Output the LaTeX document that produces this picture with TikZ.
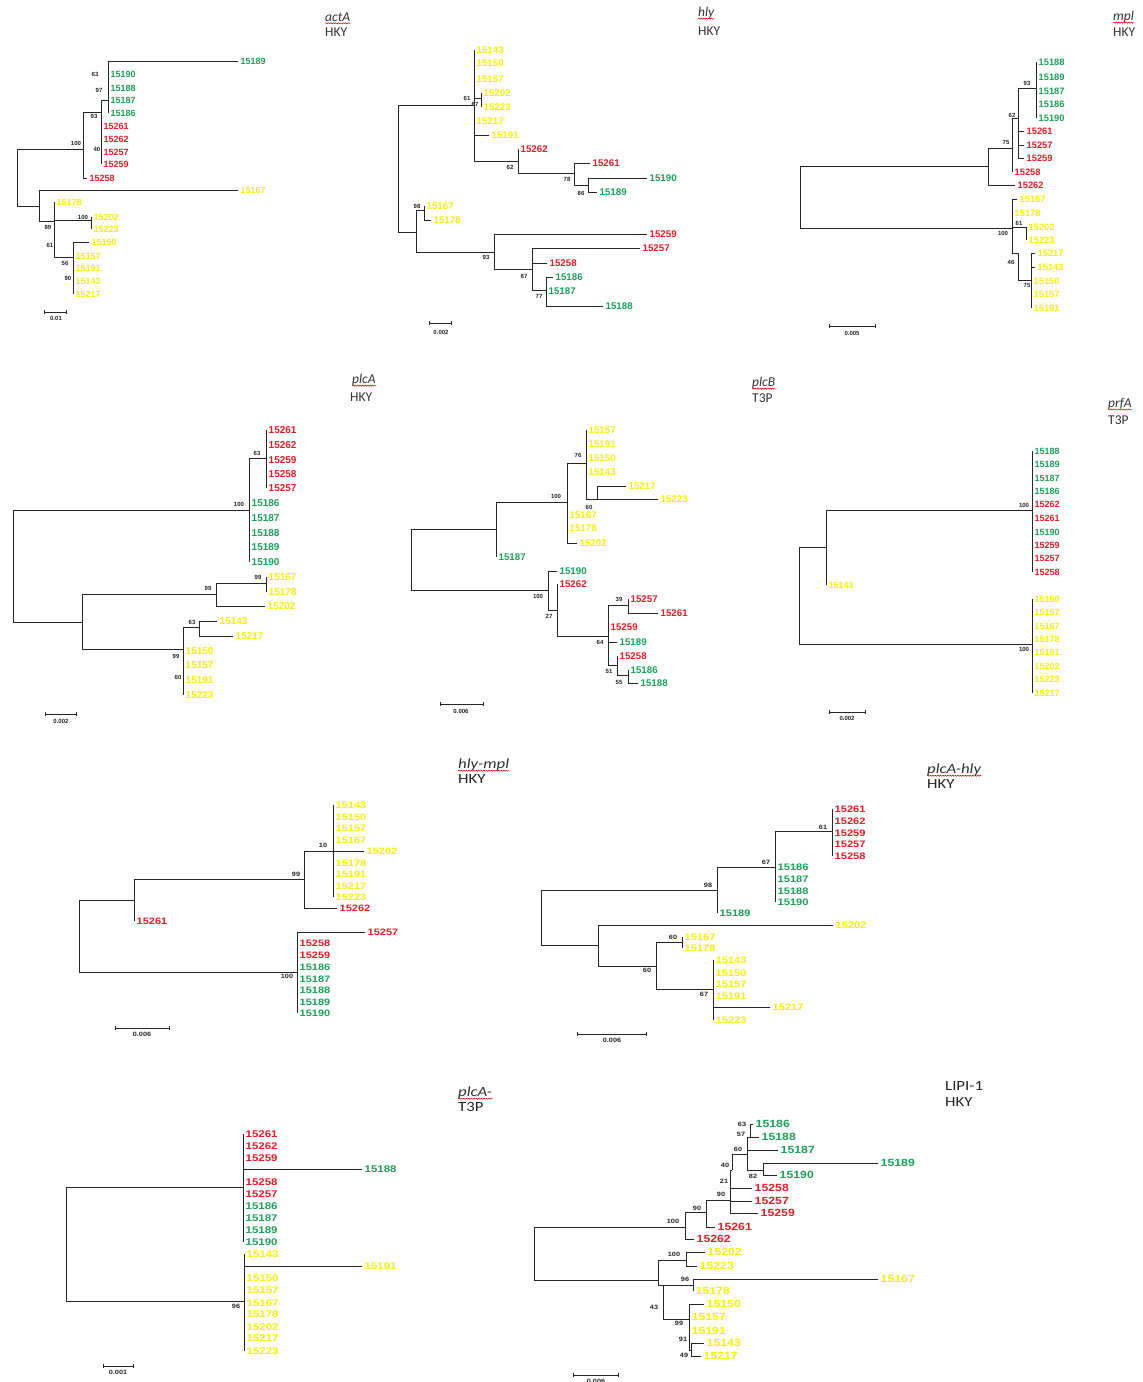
\documentclass[tikz,border=0pt]{standalone}
\usepackage{fontspec}
\usetikzlibrary{arrows.meta,decorations.pathmorphing}
\newfontfamily\lbl{Liberation Sans}
\newfontfamily\lblw{Liberation Sans}[FakeStretch=1.18]
\newfontfamily\ttl{Carlito}
\newfontfamily\ttlw{Carlito}[FakeStretch=1.2]
\definecolor{gL}{RGB}{30,160,90}
\definecolor{rL}{RGB}{225,30,40}
\definecolor{yL}{RGB}{248,240,10}
\tikzset{
  br/.style={draw=black!85, line width=1pt},
  lffont/.style={font=\lbl\bfseries\fontsize{9}{10}\selectfont},
  lf/.style={anchor=west, inner xsep=2.5pt, inner ysep=0pt, lffont},
  G/.style={text=gL}, R/.style={text=rL}, Y/.style={text=yL},
  bsfont/.style={font=\lbl\bfseries\fontsize{6}{7}\selectfont},
  bs/.style={inner sep=0pt, text=black!85, bsfont},
  sbar/.style={draw=black!85, line width=0.9pt, {Bar[width=4pt]}-{Bar[width=4pt]}},
  gene/.style={anchor=west, inner sep=0pt, text=black!80, font=\ttl\itshape\fontsize{13.5}{15}\selectfont},
  model/.style={anchor=west, inner sep=0pt, text=black!80, font=\ttl\fontsize{13.5}{15}\selectfont},
  genew/.style={anchor=west, inner sep=0pt, text=black!80, font=\ttlw\itshape\fontsize{14}{15}\selectfont},
  modelw/.style={anchor=west, inner sep=0pt, text=black!85, font=\ttlw\fontsize{14}{15}\selectfont},
  squig/.style={draw=red!80!black, line width=0.5pt, decorate, decoration={snake, amplitude=0.6pt, segment length=2.5pt}}
}
\newcommand\leaf[5]{\node[lf,#1] (#2#5) at (#4) {#5};\draw[br] (#3) |- (#2#5);}
\newcommand\inode[3]{\coordinate (#1) at (#3);\draw[br] (#2) |- (#1);}
\newcommand\bsv[3]{\node[bs] (#1) at (#2) {#3};}
\newcommand\squnder[1]{\draw[squig] ([yshift=-2pt]#1.base west) -- ([yshift=-2pt]#1.base east);}
\begin{document}
\begin{tikzpicture}[x=1pt,y=-1pt]
\path[fill=white, use as bounding box] (0,0) rectangle (1143,1382);

% ---------------- actA ----------------
\begin{scope}[lffont/.style={font=\lbl\bfseries\fontsize{9}{10}\selectfont}]
\coordinate (aR) at (17,178);
\inode{a1}{aR}{83,149}
\inode{a2}{aR}{39,206}
\inode{a3}{a1}{101,112}
\leaf{R}{a}{a1}{87,178}{15258}
\inode{a4}{a3}{108,100}
\leaf{G}{a}{a4}{238,61}{15189}
\leaf{G}{a}{a4}{108,74}{15190}
\leaf{G}{a}{a4}{108,88}{15188}
\leaf{G}{a}{a4}{108,100}{15187}
\leaf{G}{a}{a4}{108,113}{15186}
\leaf{R}{a}{a3}{101,126}{15261}
\leaf{R}{a}{a3}{101,139}{15262}
\leaf{R}{a}{a3}{101,152}{15257}
\leaf{R}{a}{a3}{101,164}{15259}
\leaf{Y}{a}{a2}{238,190}{15167}
\inode{a5}{a2}{54,221}
\leaf{Y}{a}{a5}{54,202}{15178}
\inode{a6}{a5}{91,220}
\leaf{Y}{a}{a6}{91,217}{15202}
\leaf{Y}{a}{a6}{91,229}{15223}
\inode{a7}{a5}{73,257}
\leaf{Y}{a}{a7}{89,242}{15150}
\leaf{Y}{a}{a7}{73,256}{15157}
\leaf{Y}{a}{a7}{73,268}{15191}
\leaf{Y}{a}{a7}{73,281}{15143}
\leaf{Y}{a}{a7}{73,294}{15217}
\bsv{ab1}{76,143}{100}
\bsv{ab2}{94,116}{93}
\bsv{ab3}{95,74}{63}
\bsv{ab4}{99,90}{97}
\bsv{ab5}{97,149}{40}
\bsv{ab6}{48,227}{89}
\bsv{ab7}{50,245}{61}
\bsv{ab8}{83,217}{100}
\bsv{ab9}{65,263}{56}
\bsv{ab10}{68,278}{90}
\coordinate (as1) at (44,312); \coordinate (as2) at (67,312);
\draw[sbar] (as1) -- (as2);
\bsv{asl}{56,318}{0.01}
\node[gene] (atg) at (325,17) {actA}; \squnder{atg}
\node[model] (atm) at (325,32) {HKY};
\end{scope}

% ---------------- hly ----------------
\begin{scope}[lffont/.style={font=\lbl\bfseries\fontsize{9.7}{10}\selectfont}]
\coordinate (bR) at (398,168);
\inode{b1}{bR}{474,105}
\inode{b6}{bR}{416,232}
\leaf{Y}{b}{b1}{474,50}{15143}
\leaf{Y}{b}{b1}{474,63}{15150}
\leaf{Y}{b}{b1}{474,79}{15157}
\inode{b2}{b1}{481,98}
\leaf{Y}{b}{b2}{481,93}{15202}
\leaf{Y}{b}{b2}{481,107}{15223}
\leaf{Y}{b}{b1}{474,121}{15217}
\leaf{Y}{b}{b1}{489,135}{15191}
\inode{b3}{b1}{518,161}
\leaf{R}{b}{b3}{518,149}{15262}
\inode{b4}{b3}{574,173}
\leaf{R}{b}{b4}{590,163}{15261}
\inode{b5}{b4}{588,185}
\leaf{G}{b}{b5}{647,178}{15190}
\leaf{G}{b}{b5}{597,192}{15189}
\inode{b7}{b6}{424,210}
\leaf{Y}{b}{b7}{424,206}{15167}
\leaf{Y}{b}{b7}{431,220}{15178}
\inode{b8}{b6}{494,252}
\leaf{R}{b}{b8}{647,234}{15259}
\inode{b9}{b8}{532,269}
\leaf{R}{b}{b9}{640,248}{15257}
\leaf{R}{b}{b9}{547,263}{15258}
\inode{b10}{b9}{546,290}
\leaf{G}{b}{b10}{553,277}{15186}
\leaf{G}{b}{b10}{546,291}{15187}
\leaf{G}{b}{b10}{603,306}{15188}
\bsv{bb1}{467,98}{61}
\bsv{bb2}{475,104}{67}
\bsv{bb3}{510,167}{62}
\bsv{bb4}{567,179}{78}
\bsv{bb5}{581,193}{86}
\bsv{bb6}{417,206}{98}
\bsv{bb7}{486,257}{93}
\bsv{bb8}{524,276}{87}
\bsv{bb9}{539,296}{77}
\coordinate (bs1) at (429,323); \coordinate (bs2) at (452,323);
\draw[sbar] (bs1) -- (bs2);
\bsv{bsl}{441,332}{0.002}
\node[gene] (btg) at (698,13) {hly}; \squnder{btg}
\node[model] (btm) at (698,31) {HKY};
\end{scope}

% ---------------- mpl ----------------
\begin{scope}[lffont/.style={font=\lbl\bfseries\fontsize{9.3}{10}\selectfont}]
\coordinate (cR) at (800,197);
\inode{c1}{cR}{988,166}
\inode{c5}{cR}{1012,228}
\inode{c2}{c1}{1012,148}
\leaf{R}{c}{c1}{1015,185}{15262}
\inode{c3}{c2}{1018,118}
\leaf{R}{c}{c2}{1012,172}{15258}
\inode{c4}{c3}{1036,88}
\leaf{G}{c}{c4}{1036,62}{15188}
\leaf{G}{c}{c4}{1036,77}{15189}
\leaf{G}{c}{c4}{1036,91}{15187}
\leaf{G}{c}{c4}{1036,104}{15186}
\leaf{G}{c}{c4}{1036,118}{15190}
\leaf{R}{c}{c3}{1024,131}{15261}
\leaf{R}{c}{c3}{1024,145}{15257}
\leaf{R}{c}{c3}{1024,158}{15259}
\leaf{Y}{c}{c5}{1017,199}{15167}
\leaf{Y}{c}{c5}{1012,213}{15178}
\inode{c6}{c5}{1026,227}
\leaf{Y}{c}{c6}{1026,227}{15202}
\leaf{Y}{c}{c6}{1026,240}{15223}
\inode{c7}{c5}{1018,253}
\inode{c8}{c7}{1031,280}
\leaf{Y}{c}{c8}{1035,253}{15217}
\leaf{Y}{c}{c8}{1035,267}{15143}
\leaf{Y}{c}{c8}{1031,281}{15150}
\leaf{Y}{c}{c8}{1031,294}{15157}
\leaf{Y}{c}{c8}{1031,308}{15191}
\bsv{cb1}{1027,83}{93}
\bsv{cb2}{1012,115}{62}
\bsv{cb3}{1006,142}{75}
\bsv{cb4}{1003,233}{100}
\bsv{cb5}{1019,223}{61}
\bsv{cb6}{1011,262}{46}
\bsv{cb7}{1027,285}{75}
\coordinate (cs1) at (829,326); \coordinate (cs2) at (876,326);
\draw[sbar] (cs1) -- (cs2);
\bsv{csl}{852,333}{0.005}
\node[gene] (ctg) at (1113,17) {mpl}; \squnder{ctg}
\node[model] (ctm) at (1113,32) {HKY};
\end{scope}

% ---------------- plcA ----------------
\begin{scope}[lffont/.style={font=\lbl\bfseries\fontsize{10}{11}\selectfont}]
\coordinate (dR) at (13,566);
\inode{d1}{dR}{249,510}
\inode{d3}{dR}{82,622}
\inode{d2}{d1}{266,458}
\leaf{R}{d}{d2}{266,430}{15261}
\leaf{R}{d}{d2}{266,445}{15262}
\leaf{R}{d}{d2}{266,460}{15259}
\leaf{R}{d}{d2}{266,474}{15258}
\leaf{R}{d}{d2}{266,488}{15257}
\leaf{G}{d}{d1}{249,503}{15186}
\leaf{G}{d}{d1}{249,518}{15187}
\leaf{G}{d}{d1}{249,533}{15188}
\leaf{G}{d}{d1}{249,547}{15189}
\leaf{G}{d}{d1}{249,562}{15190}
\inode{d4}{d3}{216,594}
\inode{d6}{d4}{266,583}
\leaf{Y}{d}{d6}{266,577}{15167}
\leaf{Y}{d}{d6}{266,592}{15178}
\leaf{Y}{d}{d4}{265,606}{15202}
\inode{d5}{d3}{183,649}
\inode{d7}{d5}{199,627}
\leaf{Y}{d}{d7}{217,621}{15143}
\leaf{Y}{d}{d7}{233,636}{15217}
\leaf{Y}{d}{d5}{183,651}{15150}
\leaf{Y}{d}{d5}{183,665}{15157}
\leaf{Y}{d}{d5}{183,680}{15191}
\leaf{Y}{d}{d5}{183,695}{15223}
\bsv{db1}{239,504}{100}
\bsv{db2}{257,453}{63}
\bsv{db3}{208,588}{99}
\bsv{db4}{258,577}{99}
\bsv{db5}{176,656}{99}
\bsv{db6}{192,622}{63}
\bsv{db7}{178,677}{60}
\coordinate (ds1) at (45,714); \coordinate (ds2) at (77,714);
\draw[sbar] (ds1) -- (ds2);
\bsv{dsl}{61,721}{0.002}
\node[gene] (dtg) at (352,380) {plcA}; \squnder{dtg}
\node[model] (dtm) at (350,397) {HKY};
\end{scope}

% ---------------- plcB ----------------
\begin{scope}[lffont/.style={font=\lbl\bfseries\fontsize{9.7}{10}\selectfont}]
\coordinate (eR) at (411,560);
\inode{e1}{eR}{496,529}
\inode{e5}{eR}{548,590}
\inode{e2}{e1}{567,502}
\leaf{G}{e}{e1}{496,557}{15187}
\inode{e3}{e2}{586,463}
\leaf{Y}{e}{e3}{586,430}{15157}
\leaf{Y}{e}{e3}{586,444}{15191}
\leaf{Y}{e}{e3}{586,458}{15150}
\leaf{Y}{e}{e3}{586,472}{15143}
\inode{e4}{e3}{597,499}
\leaf{Y}{e}{e4}{626,486}{15217}
\leaf{Y}{e}{e4}{658,499}{15223}
\leaf{Y}{e}{e2}{567,515}{15167}
\leaf{Y}{e}{e2}{567,528}{15178}
\leaf{Y}{e}{e2}{577,543}{15202}
\leaf{G}{e}{e5}{557,571}{15190}
\inode{e6}{e5}{557,610}
\leaf{R}{e}{e6}{557,584}{15262}
\inode{e7}{e6}{608,636}
\inode{e8}{e7}{628,605}
\leaf{R}{e}{e8}{628,599}{15257}
\leaf{R}{e}{e8}{658,613}{15261}
\leaf{R}{e}{e7}{608,627}{15259}
\leaf{G}{e}{e7}{617,642}{15189}
\inode{e9}{e7}{617,665}
\leaf{R}{e}{e9}{617,656}{15258}
\inode{e10}{e9}{628,675}
\leaf{G}{e}{e10}{628,670}{15186}
\leaf{G}{e}{e10}{638,683}{15188}
\bsv{eb1}{578,455}{76}
\bsv{eb2}{556,496}{100}
\bsv{eb3}{589,507}{60}
\bsv{eb4}{538,596}{100}
\bsv{eb5}{549,616}{27}
\bsv{eb6}{619,599}{39}
\bsv{eb7}{600,642}{64}
\bsv{eb8}{609,671}{51}
\bsv{eb9}{619,682}{55}
\coordinate (es1) at (440,704); \coordinate (es2) at (484,704);
\draw[sbar] (es1) -- (es2);
\bsv{esl}{461,711}{0.006}
\node[gene] (etg) at (752,383) {plcB}; \squnder{etg}
\node[model] (etm) at (752,398) {T3P};
\end{scope}

% ---------------- prfA ----------------
\begin{scope}[lffont/.style={font=\lbl\bfseries\fontsize{9}{10}\selectfont}]
\coordinate (fR) at (799,596);
\inode{f1}{fR}{826,547}
\inode{f3}{fR}{1032,644}
\inode{f2}{f1}{1032,510}
\leaf{Y}{f}{f1}{826,585}{15143}
\leaf{G}{f}{f2}{1032,451}{15188}
\leaf{G}{f}{f2}{1032,464}{15189}
\leaf{G}{f}{f2}{1032,478}{15187}
\leaf{G}{f}{f2}{1032,491}{15186}
\leaf{R}{f}{f2}{1032,504}{15262}
\leaf{R}{f}{f2}{1032,518}{15261}
\leaf{G}{f}{f2}{1032,532}{15190}
\leaf{R}{f}{f2}{1032,545}{15259}
\leaf{R}{f}{f2}{1032,558}{15257}
\leaf{R}{f}{f2}{1032,572}{15258}
\leaf{Y}{f}{f3}{1032,599}{15150}
\leaf{Y}{f}{f3}{1032,612}{15157}
\leaf{Y}{f}{f3}{1032,626}{15167}
\leaf{Y}{f}{f3}{1032,639}{15178}
\leaf{Y}{f}{f3}{1032,652}{15191}
\leaf{Y}{f}{f3}{1032,666}{15202}
\leaf{Y}{f}{f3}{1032,679}{15223}
\leaf{Y}{f}{f3}{1032,693}{15217}
\bsv{fb1}{1024,505}{100}
\bsv{fb2}{1024,649}{100}
\coordinate (fs1) at (829,712); \coordinate (fs2) at (866,712);
\draw[sbar] (fs1) -- (fs2);
\bsv{fsl}{847,718}{0.002}
\node[gene] (ftg) at (1108,404) {prfA}; \squnder{ftg}
\node[model] (ftm) at (1108,420) {T3P};
\end{scope}

% ---------------- hly-mpl ----------------
\begin{scope}[lffont/.style={font=\lblw\bfseries\fontsize{9.3}{10}\selectfont},
  bsfont/.style={font=\lblw\bfseries\fontsize{6.2}{7}\selectfont}]
\coordinate (gR) at (79,936);
\inode{g1}{gR}{134,900}
\inode{g4}{gR}{297,972}
\inode{g2}{g1}{304,879}
\leaf{R}{g}{g1}{134,921}{15261}
\inode{g3}{g2}{333,851}
\leaf{R}{g}{g2}{337,908}{15262}
\leaf{Y}{g}{g3}{333,805}{15143}
\leaf{Y}{g}{g3}{333,817}{15150}
\leaf{Y}{g}{g3}{333,828}{15157}
\leaf{Y}{g}{g3}{333,840}{15167}
\leaf{Y}{g}{g3}{364,851}{15202}
\leaf{Y}{g}{g3}{333,863}{15178}
\leaf{Y}{g}{g3}{333,874}{15191}
\leaf{Y}{g}{g3}{333,886}{15217}
\leaf{Y}{g}{g3}{333,897}{15223}
\leaf{R}{g}{g4}{365,932}{15257}
\leaf{R}{g}{g4}{297,943}{15258}
\leaf{R}{g}{g4}{297,955}{15259}
\leaf{G}{g}{g4}{297,967}{15186}
\leaf{G}{g}{g4}{297,979}{15187}
\leaf{G}{g}{g4}{297,990}{15188}
\leaf{G}{g}{g4}{297,1002}{15189}
\leaf{G}{g}{g4}{297,1013}{15190}
\bsv{gb1}{296,874}{99}
\bsv{gb2}{323,845}{10}
\bsv{gb3}{287,976}{100}
\coordinate (gs1) at (115,1028); \coordinate (gs2) at (170,1028);
\draw[sbar] (gs1) -- (gs2);
\bsv{gsl}{142,1034}{0.006}
\node[genew] (gtg) at (458,765) {hly-mpl}; \squnder{gtg}
\node[modelw] (gtm) at (458,779) {HKY};
\end{scope}

% ---------------- plcA-hly ----------------
\begin{scope}[lffont/.style={font=\lblw\bfseries\fontsize{9.4}{10}\selectfont},
  bsfont/.style={font=\lblw\bfseries\fontsize{6.2}{7}\selectfont}]
\coordinate (hR) at (541,917);
\inode{h1}{hR}{717,890}
\inode{h4}{hR}{598,945}
\inode{h2}{h1}{775,867}
\leaf{G}{h}{h1}{717,913}{15189}
\inode{h3}{h2}{832,831}
\leaf{R}{h}{h3}{832,809}{15261}
\leaf{R}{h}{h3}{832,821}{15262}
\leaf{R}{h}{h3}{832,833}{15259}
\leaf{R}{h}{h3}{832,844}{15257}
\leaf{R}{h}{h3}{832,856}{15258}
\leaf{G}{h}{h2}{775,867}{15186}
\leaf{G}{h}{h2}{775,879}{15187}
\leaf{G}{h}{h2}{775,891}{15188}
\leaf{G}{h}{h2}{775,902}{15190}
\leaf{Y}{h}{h4}{833,925}{15202}
\inode{h5}{h4}{656,966}
\inode{h6}{h5}{682,942}
\leaf{Y}{h}{h6}{682,937}{15167}
\leaf{Y}{h}{h6}{682,948}{15178}
\inode{h7}{h5}{713,989}
\leaf{Y}{h}{h7}{713,960}{15143}
\leaf{Y}{h}{h7}{713,973}{15150}
\leaf{Y}{h}{h7}{713,984}{15157}
\leaf{Y}{h}{h7}{713,996}{15191}
\leaf{Y}{h}{h7}{770,1007}{15217}
\leaf{Y}{h}{h7}{713,1020}{15223}
\bsv{hb1}{708,885}{98}
\bsv{hb2}{766,862}{67}
\bsv{hb3}{823,827}{61}
\bsv{hb4}{647,970}{60}
\bsv{hb5}{673,937}{60}
\bsv{hb6}{704,994}{67}
\coordinate (hs1) at (577,1034); \coordinate (hs2) at (647,1034);
\draw[sbar] (hs1) -- (hs2);
\bsv{hsl}{612,1040}{0.006}
\node[genew] (htg) at (927,770) {plcA-hly}; \squnder{htg}
\node[modelw] (htm) at (927,784) {HKY};
\end{scope}

% ---------------- plcA- ----------------
\begin{scope}[lffont/.style={font=\lblw\bfseries\fontsize{9.7}{10}\selectfont},
  bsfont/.style={font=\lblw\bfseries\fontsize{6.2}{7}\selectfont}]
\coordinate (iR) at (66,1244);
\inode{i1}{iR}{243,1187}
\inode{i2}{iR}{244,1301}
\leaf{R}{i}{i1}{243,1134}{15261}
\leaf{R}{i}{i1}{243,1146}{15262}
\leaf{R}{i}{i1}{243,1158}{15259}
\leaf{G}{i}{i1}{362,1169}{15188}
\leaf{R}{i}{i1}{243,1182}{15258}
\leaf{R}{i}{i1}{243,1194}{15257}
\leaf{G}{i}{i1}{243,1206}{15186}
\leaf{G}{i}{i1}{243,1218}{15187}
\leaf{G}{i}{i1}{243,1230}{15189}
\leaf{G}{i}{i1}{243,1242}{15190}
\leaf{Y}{i}{i2}{244,1254}{15143}
\leaf{Y}{i}{i2}{362,1266}{15191}
\leaf{Y}{i}{i2}{244,1278}{15150}
\leaf{Y}{i}{i2}{244,1290}{15157}
\leaf{Y}{i}{i2}{244,1303}{15167}
\leaf{Y}{i}{i2}{244,1314}{15178}
\leaf{Y}{i}{i2}{244,1327}{15202}
\leaf{Y}{i}{i2}{244,1338}{15217}
\leaf{Y}{i}{i2}{244,1351}{15223}
\bsv{ib1}{236,1306}{96}
\coordinate (is1) at (103,1366); \coordinate (is2) at (134,1366);
\draw[sbar] (is1) -- (is2);
\bsv{isl}{118,1372}{0.001}
\node[genew] (itg) at (458,1093) {plcA-}; \squnder{itg}
\node[modelw] (itm) at (458,1107) {T3P};
\end{scope}

% ---------------- LIPI-1 ----------------
\begin{scope}[lffont/.style={font=\lblw\bfseries\fontsize{10.4}{11}\selectfont},
  bsfont/.style={font=\lblw\bfseries\fontsize{6.2}{7}\selectfont}]
\coordinate (jR) at (534,1254);
\inode{j1}{jR}{685,1227}
\inode{j8}{jR}{658,1280}
\inode{j2}{j1}{706,1212}
\leaf{R}{j}{j1}{694,1239}{15262}
\inode{j3}{j2}{730,1200}
\leaf{R}{j}{j2}{715,1227}{15261}
\inode{j4}{j3}{732,1170}
\leaf{R}{j}{j3}{752,1188}{15258}
\leaf{R}{j}{j3}{752,1201}{15257}
\leaf{R}{j}{j3}{758,1213}{15259}
\inode{j5}{j4}{747,1154}
\inode{j6}{j5}{750,1137}
\leaf{G}{j}{j6}{753,1124}{15186}
\leaf{G}{j}{j6}{759,1137}{15188}
\leaf{G}{j}{j5}{778,1150}{15187}
\inode{j7}{j5}{763,1170}
\leaf{G}{j}{j7}{878,1163}{15189}
\leaf{G}{j}{j7}{777,1175}{15190}
\inode{j9}{j8}{686,1260}
\leaf{Y}{j}{j9}{705,1252}{15202}
\leaf{Y}{j}{j9}{697,1266}{15223}
\inode{j10}{j8}{663,1285}
\inode{j11}{j10}{693,1285}
\leaf{Y}{j}{j11}{878,1279}{15167}
\leaf{Y}{j}{j11}{693,1291}{15178}
\inode{j12}{j10}{689,1319}
\leaf{Y}{j}{j12}{704,1304}{15150}
\leaf{Y}{j}{j12}{689,1317}{15157}
\leaf{Y}{j}{j12}{689,1331}{15191}
\inode{j13}{j12}{691,1350}
\leaf{Y}{j}{j13}{704,1343}{15143}
\leaf{Y}{j}{j13}{701,1356}{15217}
\bsv{jb1}{742,1124}{63}
\bsv{jb2}{741,1134}{57}
\bsv{jb3}{738,1149}{60}
\bsv{jb4}{725,1165}{40}
\bsv{jb5}{724,1181}{21}
\bsv{jb6}{753,1176}{82}
\bsv{jb7}{721,1194}{90}
\bsv{jb8}{697,1208}{90}
\bsv{jb9}{673,1221}{100}
\bsv{jb10}{674,1254}{100}
\bsv{jb11}{685,1279}{96}
\bsv{jb12}{654,1307}{43}
\bsv{jb13}{679,1323}{99}
\bsv{jb14}{683,1339}{91}
\bsv{jb15}{684,1355}{49}
\coordinate (js1) at (573,1375); \coordinate (js2) at (619,1375);
\draw[sbar] (js1) -- (js2);
\bsv{jsl}{596,1381}{0.006}
\node[modelw] (jtg) at (945,1086) {LIPI-1};
\node[modelw] (jtm) at (945,1102) {HKY};
\end{scope}
\end{tikzpicture}
\end{document}
